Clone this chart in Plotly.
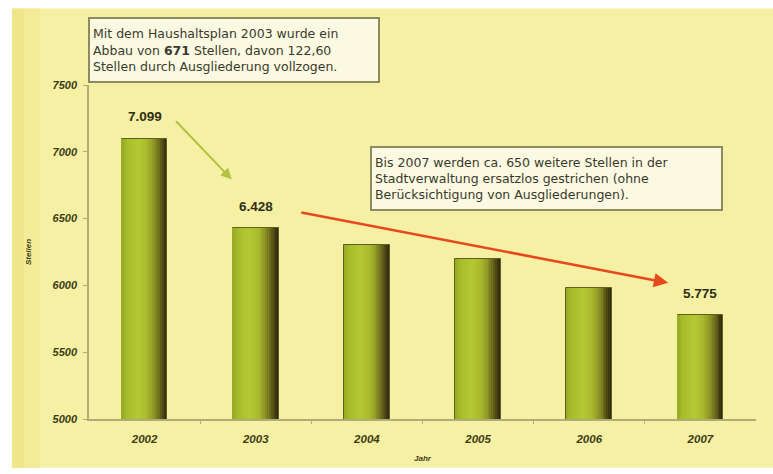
import plotly.graph_objects as go

years = ["2002", "2003", "2004", "2005", "2006", "2007"]
stellen = [7099, 6428, 6300, 6200, 5980, 5775]
labelled = ["2002", "2003", "2007"]
y_ticks = [5000, 5500, 6000, 6500, 7000, 7500]

note1 = ("Mit dem Haushaltsplan 2003 wurde ein<br>"
         "Abbau von <b>671</b> Stellen, davon 122,60<br>"
         "Stellen durch Ausgliederung vollzogen.")
note2 = ("Bis 2007 werden ca. 650 weitere Stellen in der<br>"
         "Stadtverwaltung ersatzlos gestrichen (ohne<br>"
         "Berücksichtigung von Ausgliederungen).")

idx = list(range(len(years)))

# horizontal shading of the bars (style only)
BAR_W = 0.41
stops = [(0.0, "#94a922"), (0.10, "#a6bb2a"), (0.35, "#b4c833"),
         (0.55, "#aabb2d"), (0.70, "#8f9725"), (0.82, "#6c691c"),
         (0.92, "#453d14"), (1.0, "#2a2210")]


def hx(c):
    return [int(c[i:i + 2], 16) for i in (1, 3, 5)]


def col_at(t):
    for (t0, c0), (t1, c1) in zip(stops[:-1], stops[1:]):
        if t0 <= t <= t1:
            a = (t - t0) / (t1 - t0) if t1 > t0 else 0
            r = [round(p + (q - p) * a) for p, q in zip(hx(c0), hx(c1))]
            return "rgb(%d,%d,%d)" % tuple(r)
    return stops[-1][1]


N = 24
fig = go.Figure()
for k in range(N):
    f = 1 - k / N
    col = col_at(f - 0.5 / N)
    fig.add_trace(go.Bar(
        x=idx, y=stellen,
        width=BAR_W * f, offset=-BAR_W / 2,
        marker=dict(color=col,
                    line=dict(color="#5e6020", width=1 if k == 0 else 0)),
        showlegend=False, hoverinfo="skip" if k else "x+y",
    ))

font_axis = dict(family="Arial, Liberation Sans", size=10, color="#3c3c14",
                 weight="bold", style="italic")

annotations = []
for i, (yr, v) in enumerate(zip(years, stellen)):
    if yr in labelled:
        annotations.append(dict(
            x=i, y=v, xref="x", yref="y", text=f"{v:,}".replace(",", "."),
            showarrow=False, yshift=22,
            font=dict(family="Arial, Liberation Sans", size=13.5,
                      color="#2e2e16", weight="bold")))

# arrows
annotations.append(dict(x=0.784, y=6793, ax=0.27, ay=7240, xref="x", yref="y",
                        axref="x", ayref="y", showarrow=True, arrowhead=2,
                        arrowsize=1.1, arrowwidth=2, arrowcolor="#b2c23e", text=""))
annotations.append(dict(x=4.71, y=6019, ax=1.396, ay=6548, xref="x", yref="y",
                        axref="x", ayref="y", showarrow=True, arrowhead=2,
                        arrowsize=1.1, arrowwidth=2.6, arrowcolor="#e8481e", text=""))

box_font = dict(family="DejaVu Sans", size=12.5, color="#3a3a2c")
annotations.append(dict(text=note1, xref="paper", yref="paper",
                        x=(234 - 89) / 667, y=(421 - 50) / 336,
                        xanchor="center", yanchor="middle", showarrow=False,
                        align="left", width=282, height=56, valign="middle",
                        bgcolor="#fbf9e2", bordercolor="#8c8a60", borderwidth=2,
                        borderpad=3, font=box_font))
annotations.append(dict(text=note2, xref="paper", yref="paper",
                        x=(546.5 - 89) / 667, y=(421 - 179.5) / 336,
                        xanchor="center", yanchor="middle", showarrow=False,
                        align="left", width=343, height=55, valign="middle",
                        bgcolor="#fbf9e2", bordercolor="#8c8a60", borderwidth=2,
                        borderpad=3, font=box_font))

shapes = [
    dict(type="rect", xref="paper", yref="paper", layer="below",
         x0=(12 - 89) / 667, x1=(773 - 89) / 667,
         y0=(421 - 470) / 336, y1=(421 - 8) / 336,
         fillcolor="#f6f0a4", line=dict(width=0)),
    dict(type="rect", xref="paper", yref="paper", layer="below",
         x0=(12 - 89) / 667, x1=(24 - 89) / 667,
         y0=(421 - 470) / 336, y1=(421 - 8) / 336,
         fillcolor="#efe68a", line=dict(width=0)),
    dict(type="rect", xref="paper", yref="paper", layer="below",
         x0=(24 - 89) / 667, x1=(40 - 89) / 667,
         y0=(421 - 470) / 336, y1=(421 - 8) / 336,
         fillcolor="#f3eb97", line=dict(width=0)),
]

fig.update_layout(
    width=773, height=474,
    margin=dict(l=89, r=17, t=85, b=53),
    paper_bgcolor="white", plot_bgcolor="rgba(0,0,0,0)",
    barmode="overlay", bargap=0,
    annotations=annotations, shapes=shapes,
    xaxis=dict(range=[-0.5, len(years) - 0.5], tickvals=idx, ticktext=years,
               showgrid=False, showline=True, zeroline=False,
               linecolor="#b0ac78", linewidth=1.5, ticks="",
               minor=dict(tickvals=[i + 0.5 for i in idx[:-1]], ticks="outside",
                          ticklen=3, tickcolor="#b0ac78", showgrid=False),
               tickfont=dict(font_axis, size=11.5),
               ticklabelstandoff=8,
               title=dict(text="Jahr", standoff=12,
                          font=dict(font_axis, size=8))),
    yaxis=dict(range=[5000, 7500], tickvals=y_ticks,
               ticktext=[str(t) for t in y_ticks],
               showgrid=False, showline=True, linecolor="#b0ac78", linewidth=1.5,
               ticks="outside", ticklen=4, tickcolor="#b0ac78",
               ticklabelstandoff=4,
               tickfont=dict(font_axis, size=11), zeroline=False,
               title=dict(text="Stellen", standoff=20,
                          font=dict(font_axis, size=8))),
)

fig.write_html("out.html", config={"displayModeBar": False},
               post_script="document.body.style.margin='0';")
